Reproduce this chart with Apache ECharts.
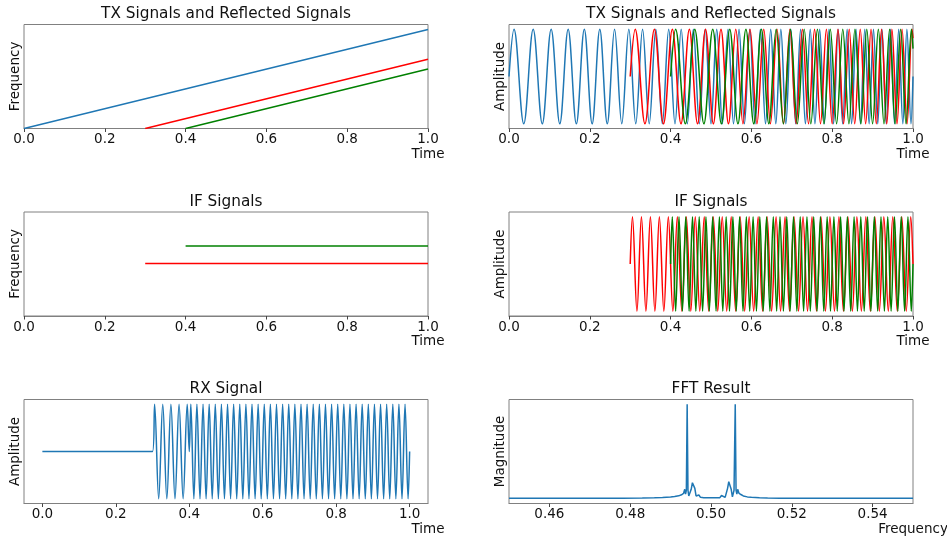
<!DOCTYPE html>
<html>
<head>
<meta charset="utf-8">
<script src="https://cdn.jsdelivr.net/npm/echarts@6/dist/echarts.min.js"></script>
<style>
  html, body { margin: 0; padding: 0; background: #ffffff; }
  #chart { width: 947px; height: 540px; }
</style>
</head>
<body>
<div id="chart"></div>
<script>
// ---- Time ticks shared by the time-domain panels ----
const timeTicks = [0, 0.2, 0.4, 0.6, 0.8, 1.0];
const fftTicks = [0.46, 0.48, 0.50, 0.52, 0.54];

// ---- Instantaneous frequency of the chirps: [time, frequency] ----
const txFreqLine = [[0, 0], [1, 30]];
const echo1FreqLine = [[0.3, 0], [1, 21]];
const echo2FreqLine = [[0.4, 0], [1, 18]];

// ---- Beat (IF) frequencies ----
const if1FreqLine = [[0.3, 9], [1, 9]];
const if2FreqLine = [[0.4, 12], [1, 12]];

// ---- TX chirp waveform: times of crests and troughs ----
const txStart = 0, txEndValue = 0;
const txPeaks = [0.0124, 0.0598, 0.1043, 0.1464, 0.1864, 0.2247, 0.2613, 0.2966, 0.3306, 0.3634,
  0.3953, 0.4262, 0.4563, 0.4856, 0.5142, 0.5421, 0.5694, 0.5961, 0.6222, 0.6478, 0.6729, 0.6976,
  0.7218, 0.7456, 0.7690, 0.7920, 0.8147, 0.8370, 0.8590, 0.8807, 0.9021, 0.9232, 0.9441, 0.9646, 0.9849];
const txTroughs = [0.0365, 0.0824, 0.1257, 0.1667, 0.2058, 0.2432, 0.2791, 0.3137, 0.3471, 0.3795,
  0.4109, 0.4414, 0.4711, 0.5000, 0.5282, 0.5558, 0.5828, 0.6092, 0.6350, 0.6604, 0.6853, 0.7097,
  0.7337, 0.7573, 0.7806, 0.8034, 0.8259, 0.8481, 0.8699, 0.8915, 0.9127, 0.9337, 0.9544, 0.9748, 0.9950];

// ---- First echo (delay 0.3) ----
const echo1Start = 0.3, echo1EndValue = 0.81;
const echo1Peaks = [0.3124, 0.3598, 0.4043, 0.4464, 0.4864, 0.5247, 0.5613, 0.5966, 0.6306, 0.6634,
  0.6953, 0.7262, 0.7563, 0.7856, 0.8142, 0.8421, 0.8694, 0.8961, 0.9222, 0.9478, 0.9729, 0.9976];
const echo1Troughs = [0.3365, 0.3824, 0.4257, 0.4667, 0.5058, 0.5432, 0.5791, 0.6137, 0.6471, 0.6795,
  0.7109, 0.7414, 0.7711, 0.8000, 0.8282, 0.8558, 0.8828, 0.9092, 0.9350, 0.9604, 0.9853];

// ---- Second echo (delay 0.4) ----
const echo2Start = 0.4, echo2EndValue = 0.59;
const echo2Peaks = [0.4124, 0.4598, 0.5043, 0.5464, 0.5864, 0.6247, 0.6613, 0.6966, 0.7306, 0.7634,
  0.7953, 0.8262, 0.8563, 0.8856, 0.9142, 0.9421, 0.9694, 0.9961];
const echo2Troughs = [0.4365, 0.4824, 0.5257, 0.5667, 0.6058, 0.6432, 0.6791, 0.7137, 0.7471, 0.7795,
  0.8109, 0.8414, 0.8711, 0.9000, 0.9282, 0.9558, 0.9828];

// ---- IF waveform of the first echo ----
const if1Start = 0.3, if1EndValue = 0;
const if1Peaks = [0.3056, 0.3278, 0.3500, 0.3722, 0.3944, 0.4167, 0.4389, 0.4611, 0.4833, 0.5056,
  0.5278, 0.5500, 0.5722, 0.5944, 0.6167, 0.6389, 0.6611, 0.6833, 0.7056, 0.7278, 0.7500, 0.7722,
  0.7944, 0.8167, 0.8389, 0.8611, 0.8833, 0.9056, 0.9278, 0.9500, 0.9722, 0.9944];
const if1Troughs = [0.3167, 0.3389, 0.3611, 0.3833, 0.4056, 0.4278, 0.4500, 0.4722, 0.4944, 0.5167,
  0.5389, 0.5611, 0.5833, 0.6056, 0.6278, 0.6500, 0.6722, 0.6944, 0.7167, 0.7389, 0.7611, 0.7833,
  0.8056, 0.8278, 0.8500, 0.8722, 0.8944, 0.9167, 0.9389, 0.9611, 0.9833];

// ---- IF waveform of the second echo ----
const if2Start = 0.4, if2EndValue = 0;
const if2Peaks = [0.4042, 0.4208, 0.4375, 0.4542, 0.4708, 0.4875, 0.5042, 0.5208, 0.5375, 0.5542,
  0.5708, 0.5875, 0.6042, 0.6208, 0.6375, 0.6542, 0.6708, 0.6875, 0.7042, 0.7208, 0.7375, 0.7542,
  0.7708, 0.7875, 0.8042, 0.8208, 0.8375, 0.8542, 0.8708, 0.8875, 0.9042, 0.9208, 0.9375, 0.9542,
  0.9708, 0.9875];
const if2Troughs = [0.4125, 0.4292, 0.4458, 0.4625, 0.4792, 0.4958, 0.5125, 0.5292, 0.5458, 0.5625,
  0.5792, 0.5958, 0.6125, 0.6292, 0.6458, 0.6625, 0.6792, 0.6958, 0.7125, 0.7292, 0.7458, 0.7625,
  0.7792, 0.7958, 0.8125, 0.8292, 0.8458, 0.8625, 0.8792, 0.8958, 0.9125, 0.9292, 0.9458, 0.9625,
  0.9792, 0.9958];

// ---- Received signal: silent, then first IF, then second IF ----
const rxSilentEnd = 0.3;
const rxSwitchTime = 0.4;

// ---- Spectrum ----
const fftFreq = [0.45, 0.46, 0.47, 0.478, 0.483, 0.486, 0.488, 0.49, 0.491, 0.492,
  0.4927, 0.4932, 0.4935, 0.4937, 0.4939, 0.4941, 0.4943, 0.4945, 0.4948, 0.4951,
  0.4954, 0.4957, 0.496, 0.4963, 0.4966, 0.497, 0.4974, 0.4978, 0.4982, 0.4986,
  0.499, 0.4994, 0.4998, 0.5002, 0.5006, 0.501, 0.5014, 0.5018, 0.5022, 0.5026,
  0.503, 0.5035, 0.5038, 0.5041, 0.5044, 0.5047, 0.505, 0.5053, 0.5055, 0.5057,
  0.506, 0.5062, 0.5064, 0.5066, 0.5069, 0.5074, 0.508, 0.509, 0.51, 0.512,
  0.514, 0.517, 0.522, 0.53, 0.54, 0.55];
const fftMag = [0.005, 0.005, 0.005, 0.006, 0.008, 0.010, 0.013, 0.018, 0.023, 0.031,
  0.042, 0.056, 0.10, 0.05, 0.09, 1.0, 0.09, 0.03, 0.02, 0.10,
  0.17, 0.18, 0.11, 0.03, 0.015, 0.04, 0.015, 0.035, 0.012, 0.03,
  0.012, 0.03, 0.012, 0.03, 0.012, 0.03, 0.012, 0.03, 0.012, 0.035,
  0.015, 0.015, 0.03, 0.11, 0.18, 0.17, 0.10, 0.02, 0.03, 0.09,
  1.0, 0.09, 0.05, 0.10, 0.06, 0.045, 0.03, 0.02, 0.016, 0.011,
  0.008, 0.006, 0.005, 0.005, 0.005, 0.005];

// Merge crest/trough times into an ordered polyline of [time, amplitude]
function waveform(start, peaks, troughs, endValue) {
  const pts = [];
  peaks.forEach(t => pts.push([t, 1]));
  troughs.forEach(t => pts.push([t, -1]));
  pts.sort((a, b) => a[0] - b[0]);
  return [[start, 0]].concat(pts, [[1, endValue]]);
}

const txWave = waveform(txStart, txPeaks, txTroughs, txEndValue);
const echo1Wave = waveform(echo1Start, echo1Peaks, echo1Troughs, echo1EndValue);
const echo2Wave = waveform(echo2Start, echo2Peaks, echo2Troughs, echo2EndValue);
const if1Wave = waveform(if1Start, if1Peaks, if1Troughs, if1EndValue);
const if2Wave = waveform(if2Start, if2Peaks, if2Troughs, if2EndValue);
const rxWave = [[0, 0], [rxSilentEnd, 0]]
  .concat(if1Wave.filter(p => p[0] > rxSilentEnd && p[0] < rxSwitchTime))
  .concat([[rxSwitchTime, 0]])
  .concat(if2Wave.filter(p => p[0] > rxSwitchTime));
const fftLine = fftFreq.map((f, i) => [f, fftMag[i]]);

// ---- Layout & style ----
const FONT = '"DejaVu Sans", "Liberation Sans", sans-serif';
const BLUE = '#1f77b4', RED = '#ff0000', GREEN = '#008000';
const SPINE = '#808080';
const colLeft = [24, 509];
const rowTop = [24.5, 212, 399.5];
const W = 404, H = 104;

const grids = [], xAxes = [], yAxes = [];
for (let r = 0; r < 3; r++) {
  for (let c = 0; c < 2; c++) {
    grids.push({
      left: colLeft[c], top: rowTop[r], width: W, height: H,
      show: true, borderColor: SPINE, borderWidth: 1, backgroundColor: 'transparent',
      outerBoundsMode: 'none', containLabel: false
    });
  }
}

function xAxis(i, min, max, ticks, digits) {
  return {
    type: 'value', gridIndex: i, min: min, max: max,
    axisLine: { show: true, onZero: false, lineStyle: { color: SPINE, width: 1 } },
    axisTick: { show: true, length: 3.5, inside: false, customValues: ticks,
      lineStyle: { color: '#444', width: 1 } },
    axisLabel: { show: true, customValues: ticks, margin: 4, fontSize: 13.5, color: '#111',
      fontFamily: FONT, formatter: v => v.toFixed(digits) },
    splitLine: { show: false }
  };
}
function yAxis(i, min, max) {
  return {
    type: 'value', gridIndex: i, min: min, max: max,
    axisLine: { show: false }, axisTick: { show: false },
    axisLabel: { show: false }, splitLine: { show: false }
  };
}

xAxes.push(xAxis(0, 0, 1, timeTicks, 1));
xAxes.push(xAxis(1, 0, 1, timeTicks, 1));
xAxes.push(xAxis(2, 0, 1, timeTicks, 1));
xAxes.push(xAxis(3, 0, 1, timeTicks, 1));
xAxes.push(xAxis(4, -0.05, 1.05, timeTicks, 1));
xAxes.push(xAxis(5, 0.45, 0.55, fftTicks, 2));

yAxes.push(yAxis(0, 0, 31.5));
yAxes.push(yAxis(1, -1.1, 1.1));
yAxes.push(yAxis(2, 0, 17.8));
yAxes.push(yAxis(3, -1.1, 1.1));
yAxes.push(yAxis(4, -1.1, 1.1));
yAxes.push(yAxis(5, -0.05, 1.05));

function line(i, data, color, smooth) {
  return {
    type: 'line', xAxisIndex: i, yAxisIndex: i, data: data,
    showSymbol: false, symbol: 'none', smooth: smooth, silent: true, clip: true,
    lineStyle: { color: color, width: 1.5 }
  };
}

const WAVE_SMOOTH = 0.37;
const series = [
  line(0, txFreqLine, BLUE, false),
  line(0, echo1FreqLine, RED, false),
  line(0, echo2FreqLine, GREEN, false),
  line(1, txWave, BLUE, WAVE_SMOOTH),
  line(1, echo1Wave, RED, WAVE_SMOOTH),
  line(1, echo2Wave, GREEN, WAVE_SMOOTH),
  line(2, if1FreqLine, RED, false),
  line(2, if2FreqLine, GREEN, false),
  line(3, if1Wave, RED, WAVE_SMOOTH),
  line(3, if2Wave, GREEN, WAVE_SMOOTH),
  line(4, rxWave, BLUE, WAVE_SMOOTH),
  line(5, fftLine, BLUE, false)
];

// ---- Titles and axis names ----
const texts = [];
function addText(x, y, str, size, rot) {
  texts.push({
    type: 'text', x: x, y: y, rotation: rot || 0, silent: true,
    style: { text: str, fill: '#111', font: size + 'px ' + FONT,
      align: 'center', verticalAlign: 'middle',
      textAlign: 'center', textVerticalAlign: 'middle' }
  });
}
const titles = [
  ['TX Signals and Reflected Signals', 'TX Signals and Reflected Signals'],
  ['IF Signals', 'IF Signals'],
  ['RX Signal', 'FFT Result']
];
const yNames = [
  ['Frequency', 'Amplitude'],
  ['Frequency', 'Amplitude'],
  ['Amplitude', 'Magnitude']
];
const xNames = [
  ['Time', 'Time'],
  ['Time', 'Time'],
  ['Time', 'Frequency']
];
for (let r = 0; r < 3; r++) {
  for (let c = 0; c < 2; c++) {
    const cx = colLeft[c] + W / 2;
    addText(cx, rowTop[r] - 10, titles[r][c], 15.3, 0);
    addText(colLeft[c] - 9, rowTop[r] + H / 2, yNames[r][c], 13.5, Math.PI / 2);
    addText(colLeft[c] + W, rowTop[r] + H + 25.5, xNames[r][c], 13.5, 0);
  }
}

const chart = echarts.init(document.getElementById('chart'), null, { renderer: 'canvas' });
chart.setOption({
  animation: false,
  backgroundColor: '#ffffff',
  grid: grids,
  xAxis: xAxes,
  yAxis: yAxes,
  series: series,
  graphic: { elements: texts }
});
</script>
</body>
</html>
